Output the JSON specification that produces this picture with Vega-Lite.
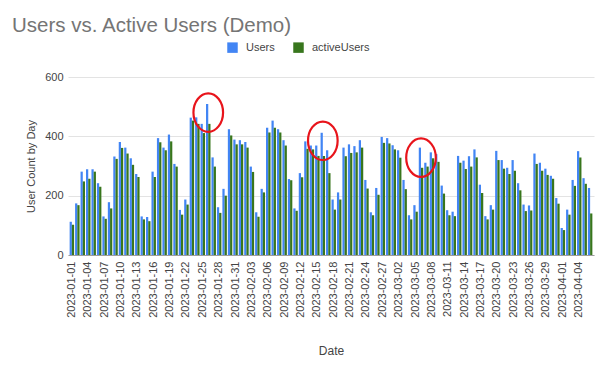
{
  "$schema": "https://vega.github.io/schema/vega-lite/v6.json",
  "width": 526,
  "height": 178,
  "autosize": "none",
  "padding": {"left": 68, "top": 77, "right": 6, "bottom": 111},
  "background": "white",
  "config": {
    "font": "Liberation Sans",
    "view": {"stroke": null}
  },
  "title": {
    "text": "Users vs. Active Users (Demo)",
    "anchor": "start",
    "frame": "group",
    "dx": -56,
    "offset": 6,
    "fontSize": 20.5,
    "fontWeight": "normal",
    "color": "#757575",
    "font": "Liberation Sans"
  },
  "layer": [
    {
      "data": {
        "values": [
          {"date": "2023-01-01", "Users": 112, "activeUsers": 102},
          {"date": "2023-01-02", "Users": 174, "activeUsers": 168},
          {"date": "2023-01-03", "Users": 281, "activeUsers": 248},
          {"date": "2023-01-04", "Users": 289, "activeUsers": 257},
          {"date": "2023-01-05", "Users": 289, "activeUsers": 281},
          {"date": "2023-01-06", "Users": 242, "activeUsers": 230},
          {"date": "2023-01-07", "Users": 130, "activeUsers": 122},
          {"date": "2023-01-08", "Users": 178, "activeUsers": 157},
          {"date": "2023-01-09", "Users": 332, "activeUsers": 324},
          {"date": "2023-01-10", "Users": 381, "activeUsers": 361},
          {"date": "2023-01-11", "Users": 362, "activeUsers": 342},
          {"date": "2023-01-12", "Users": 326, "activeUsers": 304},
          {"date": "2023-01-13", "Users": 273, "activeUsers": 263},
          {"date": "2023-01-14", "Users": 130, "activeUsers": 120},
          {"date": "2023-01-15", "Users": 128, "activeUsers": 114},
          {"date": "2023-01-16", "Users": 281, "activeUsers": 263},
          {"date": "2023-01-17", "Users": 394, "activeUsers": 380},
          {"date": "2023-01-18", "Users": 362, "activeUsers": 353},
          {"date": "2023-01-19", "Users": 406, "activeUsers": 383},
          {"date": "2023-01-20", "Users": 307, "activeUsers": 298},
          {"date": "2023-01-21", "Users": 152, "activeUsers": 136},
          {"date": "2023-01-22", "Users": 187, "activeUsers": 170},
          {"date": "2023-01-23", "Users": 463, "activeUsers": 453},
          {"date": "2023-01-24", "Users": 464, "activeUsers": 442},
          {"date": "2023-01-25", "Users": 442, "activeUsers": 411},
          {"date": "2023-01-26", "Users": 509, "activeUsers": 442},
          {"date": "2023-01-27", "Users": 329, "activeUsers": 298},
          {"date": "2023-01-28", "Users": 161, "activeUsers": 142},
          {"date": "2023-01-29", "Users": 223, "activeUsers": 200},
          {"date": "2023-01-30", "Users": 424, "activeUsers": 403},
          {"date": "2023-01-31", "Users": 389, "activeUsers": 373},
          {"date": "2023-02-01", "Users": 387, "activeUsers": 373},
          {"date": "2023-02-02", "Users": 381, "activeUsers": 362},
          {"date": "2023-02-03", "Users": 298, "activeUsers": 280},
          {"date": "2023-02-04", "Users": 144, "activeUsers": 129},
          {"date": "2023-02-05", "Users": 223, "activeUsers": 211},
          {"date": "2023-02-06", "Users": 429, "activeUsers": 413},
          {"date": "2023-02-07", "Users": 453, "activeUsers": 429},
          {"date": "2023-02-08", "Users": 424, "activeUsers": 413},
          {"date": "2023-02-09", "Users": 387, "activeUsers": 369},
          {"date": "2023-02-10", "Users": 256, "activeUsers": 252},
          {"date": "2023-02-11", "Users": 157, "activeUsers": 149},
          {"date": "2023-02-12", "Users": 276, "activeUsers": 262},
          {"date": "2023-02-13", "Users": 383, "activeUsers": 358},
          {"date": "2023-02-14", "Users": 369, "activeUsers": 356},
          {"date": "2023-02-15", "Users": 369, "activeUsers": 334},
          {"date": "2023-02-16", "Users": 412, "activeUsers": 334},
          {"date": "2023-02-17", "Users": 353, "activeUsers": 276},
          {"date": "2023-02-18", "Users": 187, "activeUsers": 153},
          {"date": "2023-02-19", "Users": 211, "activeUsers": 187},
          {"date": "2023-02-20", "Users": 362, "activeUsers": 333},
          {"date": "2023-02-21", "Users": 373, "activeUsers": 344},
          {"date": "2023-02-22", "Users": 367, "activeUsers": 346},
          {"date": "2023-02-23", "Users": 387, "activeUsers": 362},
          {"date": "2023-02-24", "Users": 253, "activeUsers": 224},
          {"date": "2023-02-25", "Users": 144, "activeUsers": 134},
          {"date": "2023-02-26", "Users": 226, "activeUsers": 203},
          {"date": "2023-02-27", "Users": 398, "activeUsers": 378},
          {"date": "2023-02-28", "Users": 394, "activeUsers": 376},
          {"date": "2023-03-01", "Users": 370, "activeUsers": 356},
          {"date": "2023-03-02", "Users": 353, "activeUsers": 328},
          {"date": "2023-03-03", "Users": 253, "activeUsers": 222},
          {"date": "2023-03-04", "Users": 134, "activeUsers": 120},
          {"date": "2023-03-05", "Users": 168, "activeUsers": 146},
          {"date": "2023-03-06", "Users": 362, "activeUsers": 294},
          {"date": "2023-03-07", "Users": 311, "activeUsers": 298},
          {"date": "2023-03-08", "Users": 346, "activeUsers": 326},
          {"date": "2023-03-09", "Users": 340, "activeUsers": 314},
          {"date": "2023-03-10", "Users": 234, "activeUsers": 207},
          {"date": "2023-03-11", "Users": 151, "activeUsers": 134},
          {"date": "2023-03-12", "Users": 146, "activeUsers": 131},
          {"date": "2023-03-13", "Users": 334, "activeUsers": 311},
          {"date": "2023-03-14", "Users": 318, "activeUsers": 290},
          {"date": "2023-03-15", "Users": 333, "activeUsers": 298},
          {"date": "2023-03-16", "Users": 356, "activeUsers": 329},
          {"date": "2023-03-17", "Users": 237, "activeUsers": 209},
          {"date": "2023-03-18", "Users": 131, "activeUsers": 120},
          {"date": "2023-03-19", "Users": 168, "activeUsers": 153},
          {"date": "2023-03-20", "Users": 351, "activeUsers": 320},
          {"date": "2023-03-21", "Users": 320, "activeUsers": 291},
          {"date": "2023-03-22", "Users": 294, "activeUsers": 273},
          {"date": "2023-03-23", "Users": 320, "activeUsers": 284},
          {"date": "2023-03-24", "Users": 242, "activeUsers": 218},
          {"date": "2023-03-25", "Users": 170, "activeUsers": 148},
          {"date": "2023-03-26", "Users": 167, "activeUsers": 150},
          {"date": "2023-03-27", "Users": 342, "activeUsers": 307},
          {"date": "2023-03-28", "Users": 311, "activeUsers": 284},
          {"date": "2023-03-29", "Users": 291, "activeUsers": 270},
          {"date": "2023-03-30", "Users": 267, "activeUsers": 257},
          {"date": "2023-03-31", "Users": 192, "activeUsers": 173},
          {"date": "2023-04-01", "Users": 91, "activeUsers": 84},
          {"date": "2023-04-02", "Users": 153, "activeUsers": 136},
          {"date": "2023-04-03", "Users": 253, "activeUsers": 233},
          {"date": "2023-04-04", "Users": 350, "activeUsers": 329},
          {"date": "2023-04-05", "Users": 259, "activeUsers": 240},
          {"date": "2023-04-06", "Users": 226, "activeUsers": 140}
        ]
      },
      "transform": [
        {"fold": ["Users", "activeUsers"], "as": ["series", "value"]}
      ],
      "mark": {"type": "bar"},
      "encoding": {
        "x": {
          "field": "date",
          "type": "ordinal",
          "scale": {"paddingInner": 0.18, "paddingOuter": 0.3},
          "axis": {
            "title": "Date",
            "titleFontSize": 12,
            "titleFontWeight": "normal",
            "titleColor": "#444444",
            "titlePadding": 28,
            "labelAngle": 270,
            "labelFontSize": 11,
            "labelColor": "#444444",
            "labelPadding": 6,
            "ticks": false,
            "domainColor": "#9e9e9e",
            "labelOverlap": false,
            "values": ["2023-01-01","2023-01-04","2023-01-07","2023-01-10","2023-01-13","2023-01-16","2023-01-19","2023-01-22","2023-01-25","2023-01-28","2023-01-31","2023-02-03","2023-02-06","2023-02-09","2023-02-12","2023-02-15","2023-02-18","2023-02-21","2023-02-24","2023-02-27","2023-03-02","2023-03-05","2023-03-08","2023-03-11","2023-03-14","2023-03-17","2023-03-20","2023-03-23","2023-03-26","2023-03-29","2023-04-01","2023-04-04"]
          }
        },
        "xOffset": {"field": "series", "type": "nominal", "sort": ["Users", "activeUsers"]},
        "y": {
          "field": "value",
          "type": "quantitative",
          "scale": {"domain": [0, 600], "nice": false},
          "axis": {
            "title": "User Count by Day",
            "titleFontSize": 11,
            "titleFontWeight": "normal",
            "titleColor": "#444444",
            "titlePadding": 8,
            "values": [0, 200, 400, 600],
            "labelFontSize": 11,
            "labelColor": "#444444",
            "labelPadding": 5,
            "ticks": false,
            "domain": false,
            "gridColor": "#e3e3e3"
          }
        },
        "color": {
          "field": "series",
          "type": "nominal",
          "scale": {"domain": ["Users", "activeUsers"], "range": ["#4285F4", "#38761D"]},
          "legend": {
            "title": null,
            "orient": "none",
            "direction": "horizontal",
            "legendX": 159,
            "legendY": -35,
            "symbolType": "square",
            "symbolSize": 110,
            "symbolStrokeWidth": 0,
            "labelFontSize": 11,
            "labelColor": "#444444",
            "labelOffset": 8,
            "columnPadding": 18
          }
        }
      }
    },
    {
      "data": {
        "values": [
          {"date": "2023-01-26", "v": 480},
          {"date": "2023-02-16", "v": 385},
          {"date": "2023-03-06", "v": 328}
        ]
      },
      "mark": {
        "type": "point",
        "shape": "M-0.77,0A0.77,1,0,1,0,0.77,0A0.77,1,0,1,0,-0.77,0Z",
        "size": 1480,
        "filled": false,
        "stroke": "#e8141b",
        "strokeWidth": 2.2,
        "opacity": 1
      },
      "encoding": {
        "x": {"field": "date", "type": "ordinal"},
        "y": {"field": "v", "type": "quantitative"}
      }
    }
  ]
}
